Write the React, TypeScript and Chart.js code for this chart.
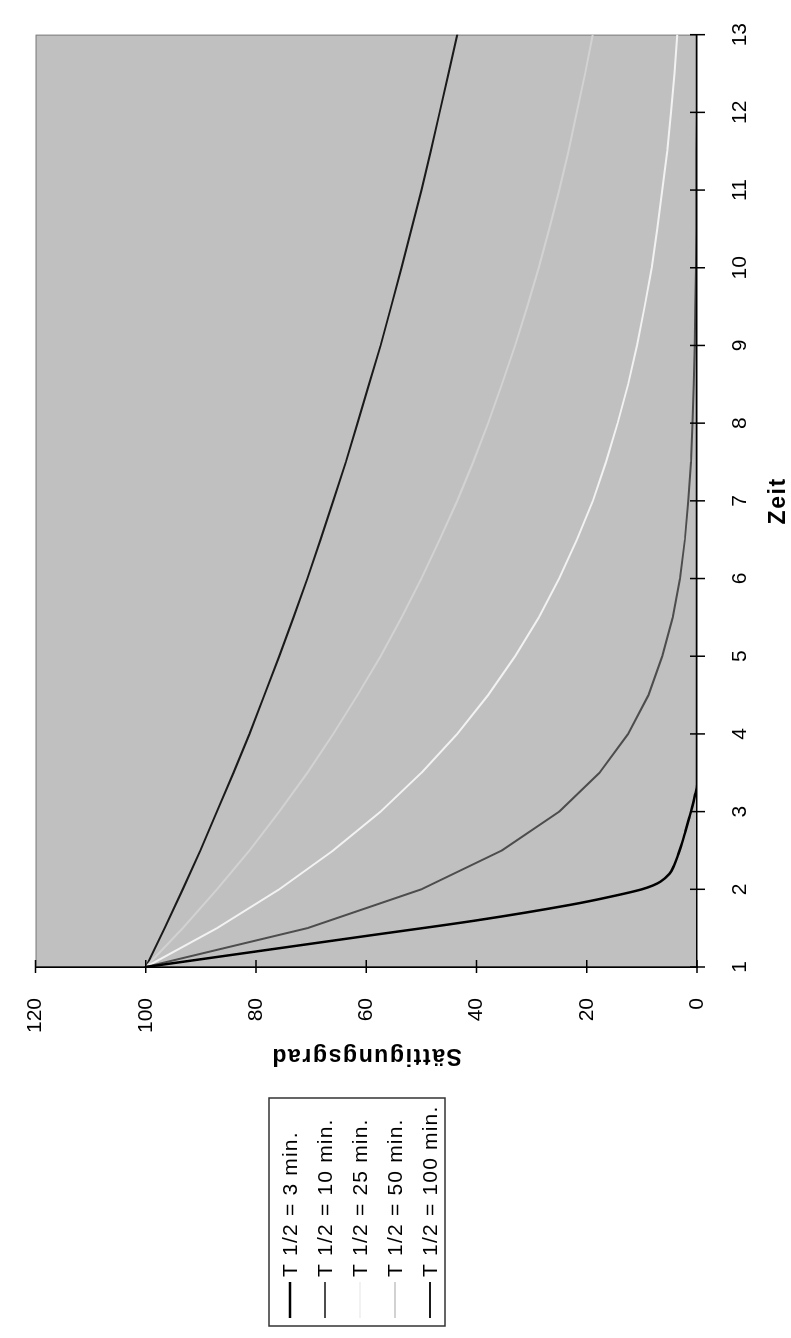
import React, { useEffect, useRef } from 'react';
import { Chart, registerables } from 'chart.js';

Chart.register(...registerables);

// Zeit (time) values for the sampled series
const zeit = [1, 1.5, 2, 2.5, 3, 3.5, 4, 4.5, 5, 5.5, 6, 6.5, 7, 7.5, 8, 8.5, 9, 9.5, 10, 10.5, 11, 11.5, 12, 12.5, 13];

// Sättigungsgrad values
const t100 = [100, 96.6, 93.3, 90.1, 87.1, 84.1, 81.2, 78.5, 75.8, 73.2, 70.7, 68.3, 66, 63.7, 61.6, 59.5, 57.4, 55.5, 53.6, 51.8, 50, 48.3, 46.7, 45.1, 43.5];
const t50 = [100, 93.3, 87.1, 81.2, 75.8, 70.7, 66, 61.6, 57.4, 53.6, 50, 46.7, 43.5, 40.6, 37.9, 35.4, 33, 30.8, 28.7, 26.8, 25, 23.3, 21.8, 20.3, 18.9];
const t25 = [100, 87.1, 75.8, 66, 57.4, 50, 43.5, 37.9, 33, 28.7, 25, 21.8, 18.9, 16.5, 14.4, 12.5, 10.9, 9.5, 8.2, 7.2, 6.3, 5.4, 4.7, 4.1, 3.6];
const t10 = [100, 70.7, 50, 35.4, 25, 17.7, 12.5, 8.8, 6.3, 4.4, 3.1, 2.2, 1.6, 1.1, 0.8, 0.6, 0.4, 0.3, 0.2, 0.1, 0.1, 0.1, 0, 0, 0];

// The 3-minute series, read at its own time points
const zeit3 = [1, 1.2, 1.4, 1.6, 1.8, 1.9, 2, 2.05, 2.1, 2.2, 2.3, 2.45, 2.6, 2.75, 2.9, 3.05, 3.2, 3.35, 13];
const t3 = [100, 80, 60, 40, 23, 16, 10, 8, 6.6, 5, 4.2, 3.4, 2.7, 2.1, 1.5, 0.9, 0.4, 0, 0];

const seriesLabels = ['T 1/2 = 3 min.', 'T 1/2 = 10 min.', 'T 1/2 = 25 min.', 'T 1/2 = 50 min.', 'T 1/2 = 100 min.'];
const seriesColors = ['#000000', '#4d4d4d', '#f2f2f2', '#d2d2d2', '#1a1a1a'];
const seriesWidths = [2.5, 2, 2, 2, 2];
const seriesSmooth = [true, false, false, false, false];

const xTitle = 'Zeit';
const yTitle = 'Sättigungsgrad';
const xMin = 1, xMax = 13, xStep = 1;
const yMin = 0, yMax = 120, yStep = 20;

const W = 1338;
const H = 791;
const FONT = "'Liberation Sans', Arial, Helvetica, sans-serif";

const toPoints = (xs: number[], ys: number[]) => xs.map((x, i) => ({ x, y: ys[i] }));

const decorPlugin = {
  id: 'decor',
  beforeDraw(chart: any) {
    const { ctx, chartArea: a } = chart;
    ctx.save();
    ctx.fillStyle = '#ffffff';
    ctx.fillRect(0, 0, chart.width, chart.height);
    ctx.fillStyle = '#c0c0c0';
    ctx.fillRect(a.left, a.top, a.right - a.left, a.bottom - a.top);
    ctx.strokeStyle = '#808080';
    ctx.lineWidth = 1;
    ctx.strokeRect(a.left + 0.5, a.top + 0.5, a.right - a.left - 1, a.bottom - a.top - 1);
    ctx.restore();
    ctx.letterSpacing = '1.6px';
  },
  afterDatasetsDraw(chart: any) {
    chart.ctx.letterSpacing = '0px';
  },
  afterDraw(chart: any) {
    const { ctx, chartArea: a } = chart;
    const xs = chart.scales.x;
    const ys = chart.scales.y;
    ctx.save();
    ctx.letterSpacing = '0px';
    ctx.strokeStyle = '#000000';
    ctx.lineWidth = 1.5;
    ctx.beginPath();
    xs.ticks.forEach((tk: any) => {
      const px = xs.getPixelForValue(tk.value);
      ctx.moveTo(px, a.bottom - 7);
      ctx.lineTo(px, a.bottom + 8);
    });
    ys.ticks.forEach((tk: any) => {
      const py = ys.getPixelForValue(tk.value);
      ctx.moveTo(a.left - 6, py);
      ctx.lineTo(a.left + 7, py);
    });
    ctx.stroke();

    // legend box
    const bx = 12, by = 269, bw = 228, bh = 176;
    ctx.strokeStyle = '#333333';
    ctx.lineWidth = 1.5;
    ctx.strokeRect(bx, by, bw, bh);
    ctx.letterSpacing = '1.2px';
    ctx.font = `21px ${FONT}`;
    ctx.textBaseline = 'middle';
    ctx.textAlign = 'left';
    chart.data.datasets.forEach((ds: any, i: number) => {
      const ry = by + 21 + i * 35;
      ctx.strokeStyle = ds.borderColor;
      ctx.lineWidth = ds.borderWidth;
      ctx.beginPath();
      ctx.moveTo(bx + 8, ry);
      ctx.lineTo(bx + 44, ry);
      ctx.stroke();
      ctx.fillStyle = '#000000';
      ctx.fillText(ds.label, bx + 49, ry + 1);
    });
    ctx.restore();
  },
};

export default function App() {
  const ref = useRef<HTMLCanvasElement | null>(null);

  useEffect(() => {
    if (!ref.current) return;
    const seriesData = [
      toPoints(zeit3, t3),
      toPoints(zeit, t10),
      toPoints(zeit, t25),
      toPoints(zeit, t50),
      toPoints(zeit, t100),
    ];
    const chart = new Chart(ref.current, {
      type: 'line',
      data: {
        datasets: seriesLabels.map((label, i) => ({
          label,
          data: seriesData[i],
          borderColor: seriesColors[i],
          backgroundColor: seriesColors[i],
          borderWidth: seriesWidths[i],
          pointRadius: 0,
          tension: 0,
          cubicInterpolationMode: seriesSmooth[i] ? 'monotone' : 'default',
          fill: false,
          borderJoinStyle: 'round',
          borderCapStyle: 'round',
        })),
      },
      options: {
        animation: false,
        responsive: false,
        devicePixelRatio: 1,
        layout: { padding: { left: 255, top: 20, right: 14, bottom: 0 } },
        plugins: {
          legend: { display: false },
          tooltip: { enabled: false },
        },
        scales: {
          x: {
            type: 'linear',
            position: 'bottom',
            min: xMin,
            max: xMax,
            grid: { display: false },
            border: { display: true, color: '#000000', width: 1.5, z: 1 },
            ticks: {
              stepSize: xStep,
              color: '#000000',
              font: { family: FONT, size: 21 },
              padding: 23,
              maxRotation: 0,
              z: 1,
            },
            title: {
              display: true,
              text: xTitle,
              color: '#000000',
              font: { family: FONT, size: 23, weight: 'bold', lineHeight: 1 },
              padding: { top: 0, bottom: 0.5 },
            },
            afterFit: (s: any) => { s.height = 94; },
          },
          y: {
            type: 'linear',
            position: 'left',
            min: yMin,
            max: yMax,
            grid: { display: false },
            border: { display: true, color: '#000000', width: 1.5, z: 1 },
            ticks: {
              stepSize: yStep,
              color: '#000000',
              font: { family: FONT, size: 21 },
              padding: 23,
              z: 1,
            },
            title: {
              display: true,
              text: yTitle,
              color: '#000000',
              font: { family: FONT, size: 23, weight: 'bold', lineHeight: 1 },
              padding: { top: 16.5, bottom: 0 },
            },
            afterFit: (s: any) => { s.width = 116; },
          },
        },
      } as any,
      plugins: [decorPlugin],
    });
    return () => chart.destroy();
  }, []);

  return (
    <div style={{ position: 'fixed', left: 0, top: 0, width: H, height: W, overflow: 'hidden', background: '#ffffff' }}>
      <div
        style={{
          position: 'absolute',
          left: 0,
          top: 0,
          width: W,
          height: H,
          transformOrigin: '0 0',
          transform: `translate(0px, ${W}px) rotate(-90deg)`,
        }}
      >
        <canvas ref={ref} width={W} height={H} style={{ display: 'block', width: W, height: H }} />
      </div>
    </div>
  );
}
